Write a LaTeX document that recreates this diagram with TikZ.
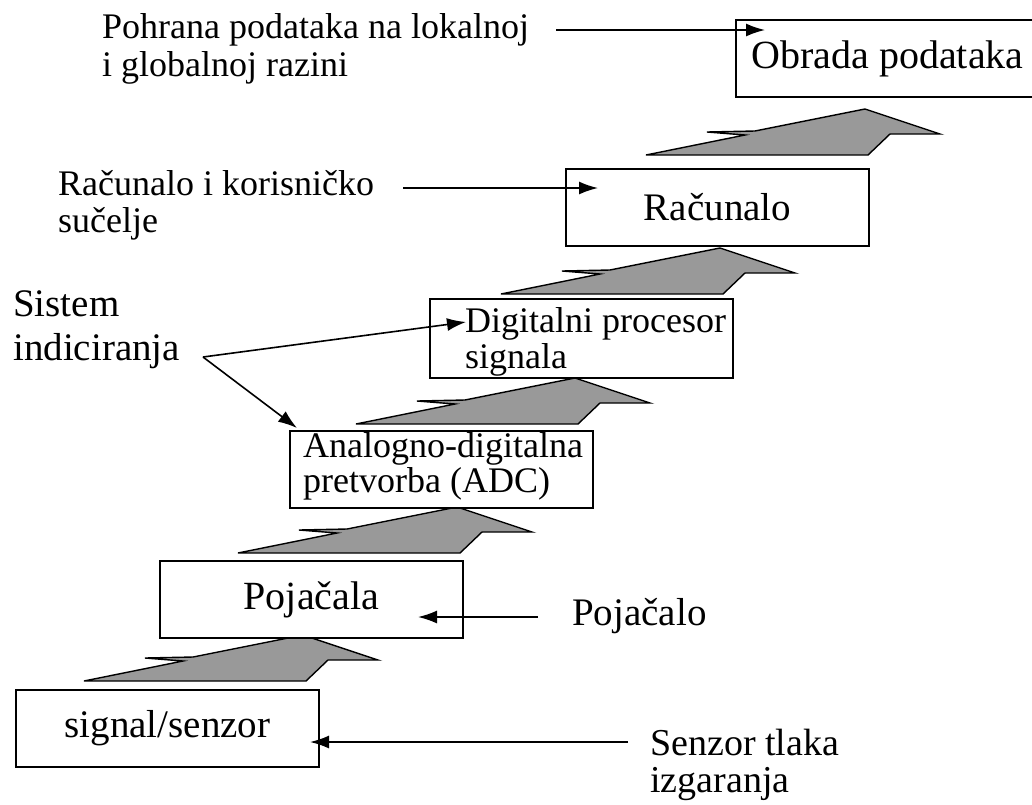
\documentclass[tikz,border=0pt]{standalone}
\usepackage{fontspec}
\setmainfont{Liberation Serif}
\usetikzlibrary{arrows.meta}
\begin{document}
\begin{tikzpicture}[x=1pt,y=-1pt,
  box/.style={draw=black,line width=2pt,fill=white,rectangle,inner sep=0pt,
    minimum width=303pt,minimum height=77pt,anchor=north west},
  txt/.style={inner sep=0pt,anchor=base west},
  con/.style={draw=black,line width=1.6pt,-{Latex[length=19pt,width=13pt]}},
  bigarrow/.style={fill=black!40,draw=black,line width=1.4pt,line join=miter},
  fb/.style={font=\fontsize{36}{40}\selectfont},
  fc/.style={font=\fontsize{38}{42}\selectfont},
  fd/.style={font=\fontsize{39}{44}\selectfont},
  fe/.style={font=\fontsize{40}{44}\selectfont}]
\useasboundingbox (0,0) rectangle (1032,804);

% grey step arrows
\foreach \ax/\ay in {303/635,457/507,575/378,720/248,865/109}{
  \draw[bigarrow,shift={(\ax,\ay)}] (0,0) -- (75,25) -- (25,25) -- (3,46) -- (-219,46)
    -- (-120,26) -- (-158,23) -- (-110,22) -- cycle;
}

% boxes
\node[box,fd] (sig) at (15,689) {signal/senzor};
\node[box,fe] (poj) at (159,560) {Pojačala};
\node[box] (adc) at (289,430) {};
\node[box,minimum height=79pt] (dsp) at (429,298) {};
\node[box,fd] (rac) at (565,168) {Računalo};
\node[box,fe] (obr) at (735,19) {Obrada podataka};

\node[txt,fb] (adc1) at (303,457) {Analogno-digitalna};
\node[txt,fb] (adc2) at (303,492) {pretvorba (ADC)};
\node[txt,fb] (dsp1) at (465,332) {Digitalni procesor};
\node[txt,fb] (dsp2) at (465,368) {signala};

% side labels
\node[txt,fb] (l1a) at (102,38) {Pohrana podataka na lokalnoj};
\node[txt,fb] (l1b) at (102,76) {i globalnoj razini};
\node[txt,fb] (l2a) at (58,195) {Računalo i korisničko};
\node[txt,fb] (l2b) at (58,232) {sučelje};
\node[txt,fd] (l3a) at (13,316) {Sistem};
\node[txt,fd] (l3b) at (13,360) {indiciranja};
\node[txt,fd] (l4) at (572,625) {Pojačalo};
\node[txt,fc] (l5a) at (650,755) {Senzor tlaka};
\node[txt,fc] (l5b) at (650,792) {izgaranja};

% connectors
\coordinate (a1s) at (556,30);
\coordinate (a1e) at (765,30);
\coordinate (a2s) at (403,188);
\coordinate (a2e) at (598,188);
\coordinate (a3s) at (203,357);
\coordinate (a3d) at (466,322);
\coordinate (a3a) at (297,428);
\coordinate (a4s) at (538,617);
\coordinate (a4e) at (418,617);
\coordinate (a5s) at (628,742);
\coordinate (a5e) at (310,742);

\draw[con] (a1s) -- (a1e);
\draw[con] (a2s) -- (a2e);
\draw[con] (a3s) -- (a3d);
\draw[con] (a3s) -- (a3a);
\draw[con] (a4s) -- (a4e);
\draw[con] (a5s) -- (a5e);
\end{tikzpicture}
\end{document}
